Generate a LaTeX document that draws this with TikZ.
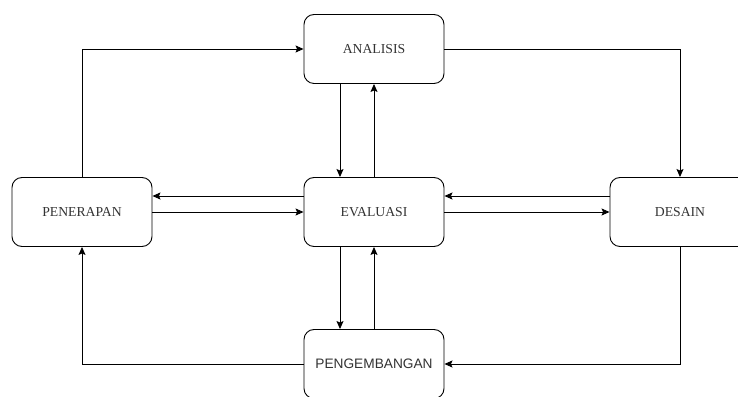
\documentclass[tikz,border=0pt]{standalone}
\usepackage{fontspec}
\setmainfont{Liberation Serif}
\newfontfamily\arialfont{Liberation Sans}
\usetikzlibrary{arrows.meta}

\begin{document}
\begin{tikzpicture}[x=1pt, y=1pt,
  box/.style={draw, line width=0.9pt, rounded corners=10pt, minimum width=140pt,
    minimum height=69pt, inner sep=0pt, text=black!80, font=\fontsize{13.7}{16}\selectfont},
  arr/.style={line width=0.9pt, -{Stealth[length=8pt, width=7pt, inset=1.5pt]}}]

\clip (0,0) rectangle (738,396);
\fill[white] (0,0) rectangle (738,396);

\node[box] (analisis) at (374,347) {ANALISIS};
\node[box] (evaluasi) at (374,184) {EVALUASI};
\node[box] (penerapan) at (82,184) {PENERAPAN};
\node[box] (desain) at (680,184) {DESAIN};
\node[box, font=\arialfont\fontsize{13.7}{16}\selectfont] (pengembangan) at (374,32) {PENGEMBANGAN};

\draw [arr] (penerapan.north) |- (analisis.west);
\draw [arr] (analisis.east) -| (desain.north);
\draw [arr] (desain.south) |- (pengembangan.east);
\draw [arr] (pengembangan.west) -| (penerapan.south);

\draw [arr] ([xshift=-34pt]analisis.south) -- ([xshift=-34pt]evaluasi.north);
\draw [arr] (evaluasi.north) -- (analisis.south);
\draw [arr] ([xshift=-34pt]evaluasi.south) -- ([xshift=-34pt]pengembangan.north);
\draw [arr] (pengembangan.north) -- (evaluasi.south);

\draw [arr] ([yshift=16pt]evaluasi.west) -- ([yshift=16pt]penerapan.east);
\draw [arr] (penerapan.east) -- (evaluasi.west);
\draw [arr] ([yshift=16pt]desain.west) -- ([yshift=16pt]evaluasi.east);
\draw [arr] (evaluasi.east) -- (desain.west);

\end{tikzpicture}
\end{document}
